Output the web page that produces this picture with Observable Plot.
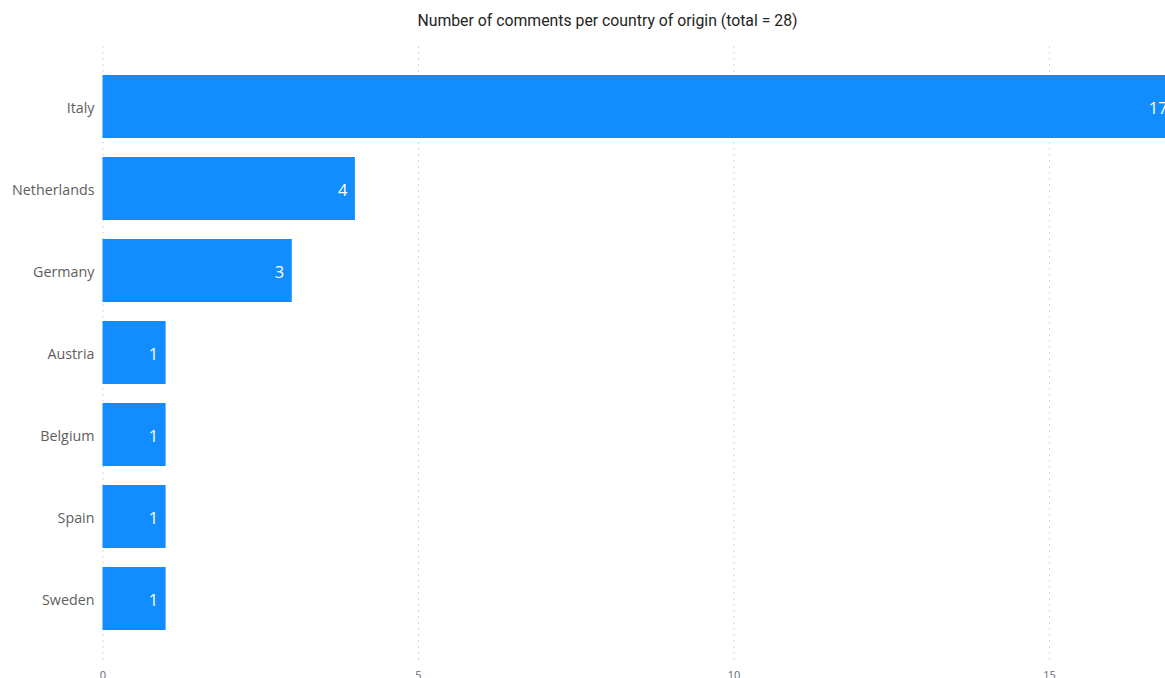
<!DOCTYPE html>
<html>
<head>
<meta charset="utf-8">
<script src="https://cdn.jsdelivr.net/npm/d3@7"></script>
<script src="https://cdn.jsdelivr.net/npm/@observablehq/plot@0.6"></script>
<style>
  html, body { margin: 0; padding: 0; background: #fff; overflow: hidden; width: 1165px; height: 678px; }
  #title { height: 40px; box-sizing: border-box; padding: 12px 0 0 50px; text-align: center;
           font-family: Roboto, "DejaVu Sans", sans-serif; font-size: 15.8px; line-height: 18px; color: #252423; }
  #chart svg { overflow: hidden; }
</style>
</head>
<body>
<div id="title">Number of comments per country of origin (total = 28)</div>
<div id="chart"></div>
<script>
const countries = ["Italy", "Netherlands", "Germany", "Austria", "Belgium", "Spain", "Sweden"];
const counts = [17, 4, 3, 1, 1, 1, 1];
const xTicks = [0, 5, 10, 15];

const data = countries.map((c, i) => ({country: c, count: counts[i]}));

const chart = Plot.plot({
  width: 1165,
  height: 638,
  marginTop: 6,
  marginBottom: 16,
  marginLeft: 102,
  marginRight: 0,
  style: {background: "#fff", overflow: "hidden"},
  x: {domain: [0, 17], range: [102.5, 1175.2], ticks: xTicks},
  y: {domain: countries, range: [16, 609], padding: 0.23},
  marks: [
    Plot.ruleX(xTicks, {stroke: "#c8c8c8", strokeWidth: 1, strokeDasharray: "1.5,4.5"}),
    Plot.barX(data, {x: "count", y: "country", fill: "#118DFF"}),
    Plot.text(data, {x: "count", y: "country", text: d => String(d.count), textAnchor: "end", dx: -8, dy: 2,
      fill: "#ffffff", fontSize: 16.5, fontFamily: "'Open Sans', 'Noto Sans', sans-serif"}),
    Plot.axisX({ticks: xTicks, tickSize: 0, tickPadding: 9, fontSize: 11, fill: "#5f6878",
      fontFamily: "'Open Sans', sans-serif", label: null}),
    Plot.axisY({tickSize: 0, tickPadding: 8, fontSize: 14.3, fill: "#605E5C", dy: 1,
      fontFamily: "'Open Sans', 'Noto Sans', sans-serif", label: null})
  ]
});
document.getElementById("chart").appendChild(chart);
</script>
</body>
</html>
